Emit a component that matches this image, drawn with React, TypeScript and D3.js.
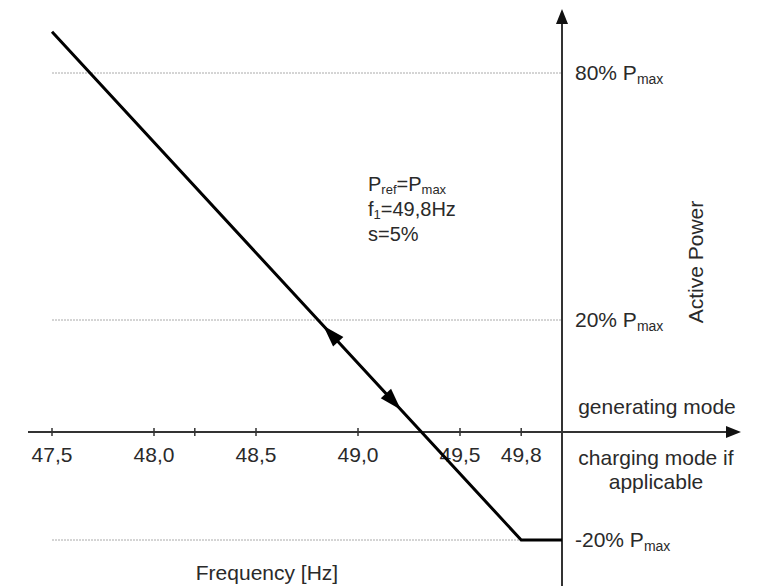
import React from "react";
import * as d3 from "d3";

// frequency axis
const freqTicks = [47.5, 48.0, 48.2, 48.5, 49.0, 49.5, 49.8];
const freqTickLabels = ["47,5", "48,0", "", "48,5", "49,0", "49,5", "49,8"];

// power reference levels (% of Pmax)
const powerLevels = [80, 20, -20];
const powerLabels = ["80% P", "20% P", "-20% P"];

// droop characteristic
const droopFreq = [47.5, 49.8, 50.0];
const droopPower = [90, -20, -20];

// direction arrows along the droop line
const arrowFreq = [48.83, 49.21];
const arrowDir = [-1, 1];

const W = 757;
const H = 586;
const FONT = "'Liberation Sans', Arial, sans-serif";
const TXT = "#2a2a2a";

export default function App() {
  const x = d3.scaleLinear().domain([47.5, 50]).range([52, 562]);
  // schematic (non-proportional) power axis
  const y = d3.scaleLinear().domain([-20, 0, 20, 80]).range([540, 432, 320, 73]);

  const pts: [number, number][] = droopFreq.map((f, i) => [x(f), y(droopPower[i])]);
  const line = d3.line()(pts) || "";

  // line direction for arrowheads
  const [x0, y0] = pts[0];
  const [x1, y1] = pts[1];
  const len = Math.hypot(x1 - x0, y1 - y0);
  const ux = (x1 - x0) / len;
  const uy = (y1 - y0) / len;
  const lineY = (px: number) => y0 + ((px - x0) * (y1 - y0)) / (x1 - x0);

  const arrowHead = (tx: number, ty: number, dx: number, dy: number, l: number, w: number) => {
    const bx = tx - dx * l;
    const by = ty - dy * l;
    return `M${tx},${ty}L${bx - dy * w},${by + dx * w}L${bx + dy * w},${by - dx * w}Z`;
  };

  const axisY = y(0);
  const axisX = x(50);

  return (
    <svg
      width={W}
      height={H}
      style={{ position: "absolute", left: 0, top: 0, background: "#fff" }}
      fontFamily={FONT}
    >
      {/* dotted reference lines */}
      {powerLevels.map((p) => (
        <line
          key={p}
          x1={x(47.5)}
          x2={axisX}
          y1={y(p)}
          y2={y(p)}
          stroke="#aaa"
          strokeWidth={1}
          strokeDasharray="2,1"
        />
      ))}

      {/* x axis */}
      <line x1={28} x2={728} y1={axisY} y2={axisY} stroke="#333" strokeWidth={2} />
      <path d={arrowHead(741, axisY, 1, 0, 15, 6)} fill="#111" />
      {freqTicks.map((f, i) => (
        <g key={f}>
          <line x1={x(f)} x2={x(f)} y1={axisY - 4} y2={axisY + 4} stroke="#333" strokeWidth={1.5} />
          <text x={x(f)} y={axisY + 30} textAnchor="middle" fontSize={21} fill={TXT}>
            {freqTickLabels[i]}
          </text>
        </g>
      ))}

      {/* y axis */}
      <line x1={axisX} x2={axisX} y1={H} y2={22} stroke="#333" strokeWidth={2} />
      <path d={arrowHead(axisX, 9, 0, -1, 15, 6)} fill="#111" />

      {/* power level labels */}
      {powerLevels.map((p, i) => (
        <text key={p} x={575} y={y(p) + 7} fontSize={21} fill={TXT}>
          {powerLabels[i]}
          <tspan fontSize={14} dy={4}>max</tspan>
        </text>
      ))}

      {/* droop line */}
      <path d={line} fill="none" stroke="#000" strokeWidth={3} strokeLinejoin="miter" />
      {arrowFreq.map((f, i) => {
        const px = x(f);
        return (
          <path
            key={f}
            d={arrowHead(px, lineY(px), ux * arrowDir[i], uy * arrowDir[i], 22, 7)}
            fill="#000"
          />
        );
      })}

      {/* annotation */}
      <text x={368} y={191} fontSize={20} fill={TXT}>
        P<tspan fontSize={13} dy={3}>ref</tspan>
        <tspan dy={-3}>=P</tspan>
        <tspan fontSize={13} dy={3}>max</tspan>
      </text>
      <text x={368} y={216} fontSize={20} fill={TXT}>
        f<tspan fontSize={13} dy={3}>1</tspan>
        <tspan dy={-3}>=49,8Hz</tspan>
      </text>
      <text x={368} y={241} fontSize={20} fill={TXT}>
        s=5%
      </text>

      {/* mode labels */}
      <text x={657} y={414} textAnchor="middle" fontSize={21} fill={TXT}>
        generating mode
      </text>
      <text x={656} y={465} textAnchor="middle" fontSize={21} fill={TXT}>
        charging mode if
      </text>
      <text x={656} y={489} textAnchor="middle" fontSize={21} fill={TXT}>
        applicable
      </text>

      {/* axis titles */}
      <text
        transform="translate(703,262) rotate(-90)"
        textAnchor="middle"
        fontSize={21}
        fill={TXT}
      >
        Active Power
      </text>
      <text x={267} y={580} textAnchor="middle" fontSize={21} fill={TXT}>
        Frequency [Hz]
      </text>
    </svg>
  );
}
